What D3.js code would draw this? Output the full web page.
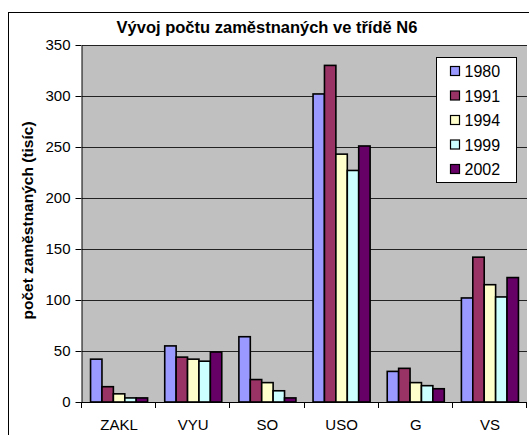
<!DOCTYPE html>
<html>
<head>
<meta charset="utf-8">
<script src="https://cdn.jsdelivr.net/npm/d3@7"></script>
<style>
  body { margin: 0; background: #fff; }
  svg { display: block; font-family: "Liberation Sans", Arial, sans-serif; }
</style>
</head>
<body>
<script>
// data (thousands of employees)
var categories = ["ZAKL", "VYU", "SO", "USO", "G", "VS"];
var years = ["1980", "1991", "1994", "1999", "2002"];
var v1980 = [42, 55, 64, 302, 30, 102];
var v1991 = [15, 44, 22, 330, 33, 142];
var v1994 = [8, 42, 19, 243, 19, 115];
var v1999 = [4, 40, 11, 227, 16, 103];
var v2002 = [4, 49, 4, 251, 13, 122];
var yTicks = [0, 50, 100, 150, 200, 250, 300, 350];
var colors = ["#9999ff", "#993366", "#ffffcc", "#ccffff", "#660066"];

var seriesValues = [v1980, v1991, v1994, v1999, v2002];

var svgWidth = 529;
var svgHeight = 435;

var plot = { left: 82, right: 527, top: 45, bottom: 402 };

var svg = d3.select("body")
    .append("svg")
    .attr("width", svgWidth)
    .attr("height", svgHeight);

// outer chart border (runs off the right and bottom edges)
svg.append("rect")
    .attr("x", 8.5)
    .attr("y", 12.5)
    .attr("width", 560)
    .attr("height", 460)
    .attr("fill", "#fff")
    .attr("stroke", "#000")
    .attr("stroke-width", 1);

// plot area background
svg.append("rect")
    .attr("x", plot.left)
    .attr("y", plot.top)
    .attr("width", plot.right - plot.left)
    .attr("height", plot.bottom - plot.top)
    .attr("fill", "#c0c0c0");

var x0 = d3.scaleBand()
    .domain(categories)
    .range([plot.left, plot.right])
    .padding(0);

// Excel style gap width 150%: 5 bars + 1.5 bar widths of gap per category
var barW = x0.bandwidth() / (years.length + 1.5);
var x1 = d3.scaleBand()
    .domain(years)
    .range([barW * 0.75, x0.bandwidth() - barW * 0.75])
    .padding(0);

var y = d3.scaleLinear()
    .domain([0, 350])
    .range([plot.bottom, plot.top]);

// gridlines
svg.append("g")
    .selectAll("line")
    .data(yTicks.filter(d => d > 0))
    .enter()
    .append("line")
    .attr("x1", plot.left)
    .attr("x2", plot.right)
    .attr("y1", d => Math.round(y(d)) + 0.5)
    .attr("y2", d => Math.round(y(d)) + 0.5)
    .attr("stroke", "#222")
    .attr("stroke-width", 1);

// bars
var rows = [];
categories.forEach(function(c, i) {
    years.forEach(function(yr, j) {
        rows.push({ cat: c, year: yr, value: seriesValues[j][i], color: colors[j] });
    });
});

svg.append("g")
    .selectAll("rect")
    .data(rows)
    .enter()
    .append("rect")
    .attr("x", d => x0(d.cat) + x1(d.year))
    .attr("y", d => y(d.value))
    .attr("width", x1.bandwidth())
    .attr("height", d => y(0) - y(d.value))
    .attr("fill", d => d.color)
    .attr("stroke", "#000")
    .attr("stroke-width", 1.6);

// y axis
var leftAxis = d3.axisLeft(y)
    .tickValues(yTicks)
    .tickSize(6)
    .tickPadding(5)
    .tickSizeOuter(0);

var yAxis = svg.append("g")
    .attr("transform", "translate(" + (plot.left - 0.5) + ",0)")
    .call(leftAxis);
yAxis.selectAll("text")
    .style("font-size", "15px")
    .style("fill", "#000")
    .attr("font-family", "Liberation Sans, Arial, sans-serif");
yAxis.selectAll("line, path").attr("stroke", "#000").attr("stroke-width", 1);

// x axis: ticks sit between categories
svg.append("line")
    .attr("x1", plot.left)
    .attr("x2", plot.right)
    .attr("y1", plot.bottom + 0.5)
    .attr("y2", plot.bottom + 0.5)
    .attr("stroke", "#000")
    .attr("stroke-width", 1);

var boundaries = categories.map(c => x0(c)).concat([plot.right]);
svg.append("g")
    .selectAll("line")
    .data(boundaries)
    .enter()
    .append("line")
    .attr("x1", d => Math.round(d) - 0.5)
    .attr("x2", d => Math.round(d) - 0.5)
    .attr("y1", plot.bottom)
    .attr("y2", plot.bottom + 6)
    .attr("stroke", "#000");

svg.append("g")
    .selectAll("text")
    .data(categories)
    .enter()
    .append("text")
    .attr("x", d => x0(d) + x0.bandwidth() / 2)
    .attr("y", 430)
    .attr("text-anchor", "middle")
    .style("font-size", "15px")
    .text(d => d);

// title
svg.append("text")
    .attr("x", 267)
    .attr("y", 33)
    .attr("text-anchor", "middle")
    .style("font-size", "16.5px")
    .style("font-weight", "bold")
    .text("Vývoj počtu zaměstnaných ve třídě N6");

// y axis label
svg.append("g")
    .attr("transform", "translate(33," + ((plot.top + plot.bottom) / 2 - 3) + ")")
    .append("text")
    .attr("transform", "rotate(-90)")
    .attr("text-anchor", "middle")
    .style("font-size", "15.5px")
    .style("font-weight", "bold")
    .text("počet zaměstnaných (tisíc)");

// legend
var legend = svg.append("g")
    .attr("transform", "translate(436.5,57.5)");

legend.append("rect")
    .attr("width", 80)
    .attr("height", 125)
    .attr("fill", "#fff")
    .attr("stroke", "#000");

var items = legend.selectAll("g.item")
    .data(years)
    .enter()
    .append("g")
    .attr("class", "item")
    .attr("transform", (d, i) => "translate(0," + (13.5 + i * 24.5) + ")");

items.append("rect")
    .attr("x", 14)
    .attr("y", -4.5)
    .attr("width", 9)
    .attr("height", 9)
    .attr("fill", (d, i) => colors[i])
    .attr("stroke", "#000")
    .attr("stroke-width", 1.2);

items.append("text")
    .attr("x", 28)
    .attr("y", 6)
    .style("font-size", "16px")
    .text(d => d);
</script>
</body>
</html>
